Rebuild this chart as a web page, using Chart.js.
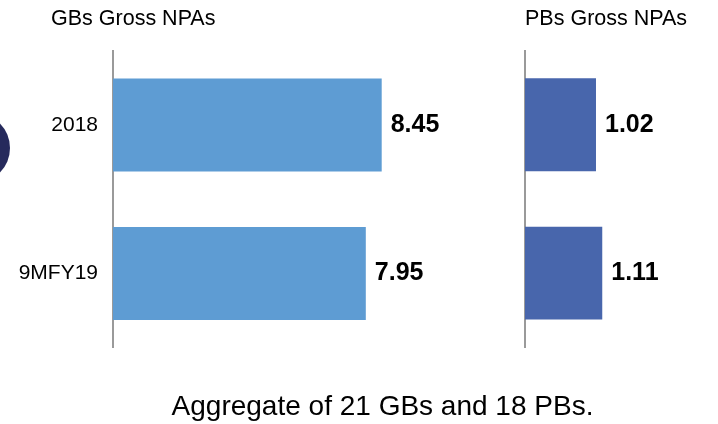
<!DOCTYPE html>
<html>
<head>
<meta charset="utf-8">
<title>Gross NPAs</title>
<script src="https://cdn.jsdelivr.net/npm/chart.js@4/dist/chart.umd.min.js"></script>
<style>
  html, body { margin: 0; padding: 0; background: #ffffff; }
  #wrap { position: relative; width: 718px; height: 424px; overflow: hidden; }
  #gbCanvas { position: absolute; left: 0; top: 0; }
  #pbCanvas { position: absolute; left: 480px; top: 0; }
  .dot { position: absolute; left: -60px; top: 113px; width: 70px; height: 70px;
         border-radius: 50%; background: #262a5c; }
</style>
</head>
<body>
<div id="wrap">
  <div class="dot"></div>
  <canvas id="gbCanvas" width="718" height="424"></canvas>
  <canvas id="pbCanvas" width="238" height="424"></canvas>
</div>
<script>
// Periods shown on the category axis
const categories = ['2018', '9MFY19'];
// Gross NPAs (%) for government banks and private banks
const gbGrossNpa = [8.45, 7.95];
const pbGrossNpa = [1.02, 1.11];
const gbTitle = 'GBs Gross NPAs';
const pbTitle = 'PBs Gross NPAs';
const footnote = 'Aggregate of 21 GBs and 18 PBs.';

const FONT = "'Liberation Sans', Arial, Helvetica, sans-serif";
Chart.defaults.font.family = FONT;
Chart.defaults.color = '#000000';

// Writes each bar's value just past its end
const valueLabels = {
  id: 'valueLabels',
  afterDatasetsDraw(chart) {
    const ctx = chart.ctx;
    ctx.save();
    ctx.font = 'bold 25px ' + FONT;
    ctx.fillStyle = '#000000';
    ctx.textAlign = 'left';
    ctx.textBaseline = 'middle';
    chart.data.datasets.forEach((ds, di) => {
      chart.getDatasetMeta(di).data.forEach((bar, i) => {
        ctx.fillText(ds.data[i].toFixed(2), bar.x + 9, bar.y);
      });
    });
    ctx.restore();
  }
};

// Narrows the horizontal span of the title / footnote boxes after layout
const textInset = {
  id: 'textInset',
  afterLayout(chart, args, opts) {
    chart.boxes.forEach(box => {
      if (!box.options || typeof box.options.text !== 'string') return;
      const span = box.options.position === 'bottom' ? opts.bottom : opts.top;
      if (!span) return;
      box.left = span[0];
      box.right = span[1];
      box.width = span[1] - span[0];
    });
  }
};

function panel(canvasId, title, values, color, opts) {
  return new Chart(document.getElementById(canvasId), {
    type: 'bar',
    data: {
      labels: categories,
      datasets: [{
        data: values,
        backgroundColor: color,
        borderWidth: 0,
        categoryPercentage: 1,
        barPercentage: 0.626
      }]
    },
    options: {
      indexAxis: 'y',
      responsive: false,
      animation: false,
      devicePixelRatio: 1,
      layout: { padding: opts.padding },
      scales: {
        x: { display: false, min: 0, max: opts.max },
        y: {
          grid: { display: false, drawTicks: false },
          border: { display: true, color: '#9a9a9a', width: 2 },
          ticks: { display: opts.showTicks, padding: 15, font: { size: 21 }, color: '#000000' },
          afterFit(scale) { scale.width = opts.axisWidth; }
        }
      },
      plugins: {
        legend: { display: false },
        tooltip: { enabled: false },
        textInset: opts.inset,
        title: {
          display: true,
          text: title,
          align: 'start',
          color: '#000000',
          font: { size: 21.5, weight: 'normal' },
          padding: { top: 0, bottom: 18.8 }
        },
        subtitle: opts.footnote ? {
          display: true,
          text: opts.footnote,
          position: 'bottom',
          color: '#000000',
          font: { size: 28, weight: 'normal' },
          padding: { top: 42.5, bottom: 0 }
        } : { display: false }
      }
    },
    plugins: [valueLabels, textInset]
  });
}

panel('gbCanvas', gbTitle, gbGrossNpa, '#5E9CD3', {
  padding: { left: 0, right: 4, top: 6, bottom: 0 },
  max: 18.9, axisWidth: 113, showTicks: true, footnote: footnote,
  inset: { top: [51, 714], bottom: [51, 714] }
});

panel('pbCanvas', pbTitle, pbGrossNpa, '#4866AC', {
  padding: { left: 45, right: 19, top: 6, bottom: 76.7 },
  max: 2.5, axisWidth: 0, showTicks: false, footnote: null,
  inset: {}
});
</script>
</body>
</html>
